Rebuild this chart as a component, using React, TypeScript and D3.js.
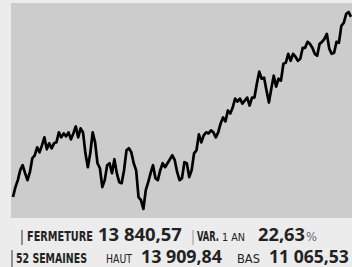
import React, { useLayoutEffect, useRef, useState } from 'react';
import * as d3 from 'd3';

// closing values, oldest first
const closes = [
  11238, 11382, 11482, 11626, 11698, 11583, 11482, 11597, 11798, 11841,
  11956, 11884, 11985, 12100, 11927, 12014, 11942, 12014, 12028, 12172,
  12100, 12157, 12114, 12172, 12071, 12157, 12258, 12100, 12229, 12172,
  11870, 11669, 11870, 12172, 12028, 11726, 11654, 11382, 11482, 11698,
  11726, 11583, 11784, 11583, 11453, 11439, 11626, 11913, 11942, 11884,
  11726, 11626, 11238, 11195, 11066, 11338, 11453, 11583, 11698, 11511,
  11482, 11626, 11726, 11669, 11726, 11784, 11841, 11770, 11597, 11482,
  11511, 11741, 11726, 11525, 11626, 11870, 11913, 12143, 12028, 12129,
  12172, 12157, 12200, 12172, 12100, 12172, 12301, 12387, 12330, 12488,
  12445, 12531, 12660, 12617, 12660, 12588, 12631, 12674, 12559, 12674,
  12674, 12875, 13048, 12947, 12962, 12775, 12603, 12804, 12990, 12832,
  12947, 12919, 13163, 13177, 13306, 13206, 13306, 13264, 13206, 13235,
  13393, 13393, 13479, 13450, 13393, 13306, 13278, 13450, 13479, 13522,
  13594, 13379, 13306, 13321, 13479, 13465, 13709, 13752, 13881, 13910,
  13841,
];

const low52 = 11065.53;
const high52 = 13909.84;

const W = 352;
const H = 267;

const labelFont = '"DejaVu Sans Condensed", "Liberation Sans Narrow", "Roboto", sans-serif';
const numFont = '"Open Sans", "Roboto", sans-serif';

// text squeezed horizontally to a given width (the original uses a condensed face)
function FitText({ x, y, width, children, ...rest }: any) {
  const ref = useRef<SVGTextElement>(null);
  const [k, setK] = useState(1);
  useLayoutEffect(() => {
    const w = ref.current ? ref.current.getComputedTextLength() : 0;
    if (w > 0) setK(width / w);
  }, [width]);
  return (
    <text ref={ref} transform={`translate(${x},${y}) scale(${k},1)`} {...rest}>
      {children}
    </text>
  );
}

export default function App() {
  const x = d3.scaleLinear().domain([0, closes.length - 1]).range([13, 351]);
  const y = d3.scaleLinear().domain([low52, high52]).range([209, 12]);
  const line = d3.line<number>()
    .x((d, i) => x(i))
    .y(d => y(d));

  const lbl = { fontFamily: labelFont, fill: '#222' };
  const num = { fontFamily: numFont, fontWeight: 'bold', fontSize: 18, fill: '#222' };

  return (
    <svg width={W} height={H} style={{ position: 'absolute', left: 0, top: 0 }}>
      <rect x={0} y={0} width={W} height={H} fill="#ececec" />
      <rect x={11} y={3} width={W - 11} height={215} fill="#cccccc" />
      <path d={line(closes) ?? ''} fill="none" stroke="#000" strokeWidth={2.7} strokeLinejoin="round" />

      {/* row 1 */}
      <line x1={22} x2={22} y1={230} y2={245} stroke="#555" strokeWidth={1.2} />
      <FitText x={27} y={241} width={66} {...lbl} fontWeight="bold" fontSize={14.5}>FERMETURE</FitText>
      <FitText x={98} y={241} width={84} {...num}>13 840,57</FitText>
      <line x1={193} x2={193} y1={230} y2={245} stroke="#999" strokeWidth={1} />
      <FitText x={197} y={241} width={22} {...lbl} fontWeight="bold" fontSize={14.5}>VAR.</FitText>
      <FitText x={222} y={241} width={23} {...lbl} fontSize={10}>1 AN</FitText>
      <FitText x={258} y={241} width={47} {...num}>22,63</FitText>
      <FitText x={306} y={241} width={11} {...lbl} fontSize={13} fill="#666">%</FitText>

      {/* row 2 */}
      <line x1={12} x2={12} y1={250} y2={267} stroke="#555" strokeWidth={1.2} />
      <FitText x={16} y={263} width={71} {...lbl} fontWeight="bold" fontSize={14.5}>52 SEMAINES</FitText>
      <FitText x={106} y={263} width={26} {...lbl} fontSize={12.5}>HAUT</FitText>
      <FitText x={141} y={263} width={81} {...num}>13 909,84</FitText>
      <FitText x={237} y={263} width={23} {...lbl} fontSize={12.5}>BAS</FitText>
      <FitText x={269} y={263} width={80} {...num}>11 065,53</FitText>
    </svg>
  );
}
